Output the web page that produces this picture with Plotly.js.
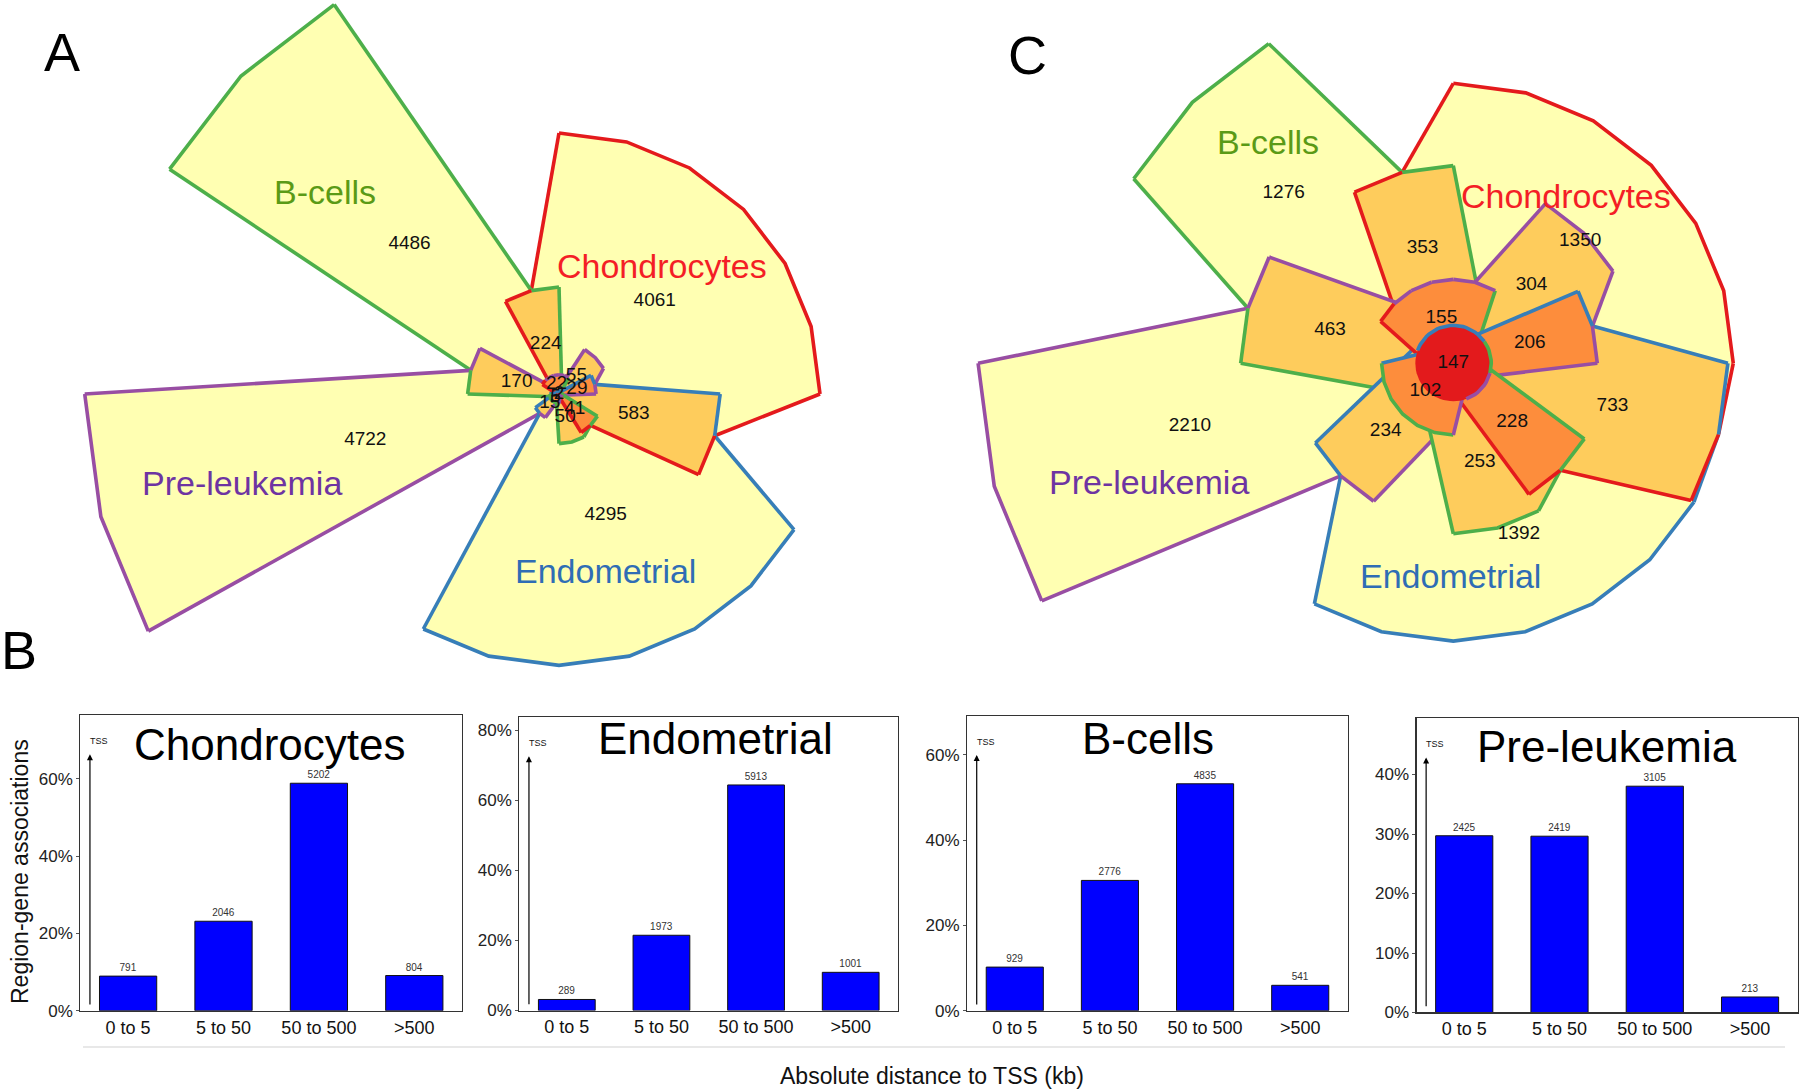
<!DOCTYPE html>
<html><head><meta charset="utf-8">
<script src="https://cdn.plot.ly/plotly-3.0.1.min.js"></script>
<style>html,body{margin:0;padding:0;background:#fff;}#chart{width:1800px;height:1089px;}</style>
</head><body><div id="chart"></div>
<script>
// ---------------- DATA ----------------
// Region keys: C=Chondrocytes, B=B-cells, P=Pre-leukemia, E=Endometrial
const regionKeys = ['C','B','P','E','CB','PB','PE','CE','CP','EB','CBP','CPE','CEB','BPE','CBPE'];
const countsA = [4061,4486,4722,4295,224,170,15,583,55,50,22,29,41,5,2];
const countsC = [1350,1276,2210,1392,353,463,234,733,304,253,155,206,228,102,147];
const setNames = {C:'Chondrocytes', B:'B-cells', P:'Pre-leukemia', E:'Endometrial'};

const distanceBins = ['0 to 5','5 to 50','50 to 500','>500'];
const chondroCounts = [791,2046,5202,804];
const endoCounts = [289,1973,5913,1001];
const bcellCounts = [929,2776,4835,541];
const preleukCounts = [2425,2419,3105,213];

// ---------------- LAYOUT / STYLE TABLES ----------------
const W = 1800, H = 1089;
const FONT = 'Liberation Sans, Arial, Helvetica, sans-serif';
const SETCOL = {C:'#E41A1C', B:'#4DAF4A', P:'#984EA3', E:'#377EB8'};
const NAMECOL = {C:'#F41E26', B:'#5A9A16', P:'#6E34A2', E:'#2F6DB5'};
const FILL = {1:'#FFFFB2', 2:'#FECC5C', 3:'#FD8D3C', 4:'#E31A1C'};
// angular sectors of the Chow-Ruskey style layout; s = neighbour whose arc midpoint a side runs to (null = tangent side)
// c = [side at a[0], arc colour parts, side at a[1]] (set letters); la = label angle
const GEOM = {
  C:  {lv:1, a:[0,90],    s:['CE','CB'],  c:['C',['C'],'C'], la:44},
  B:  {lv:1, a:[120,150], s:['CB','PB'],  c:['B',['B'],'B'], la:135},
  P:  {lv:1, a:[180,210], s:['PB','PE'],  c:['P',['P'],'P'], la:193.5},
  E:  {lv:1, a:[240,330], s:['PE','CE'],  c:['E',['E'],'E'], la:291},
  CB: {lv:2, a:[90,120],  s:[null,null],  c:['B',['B','C'],'C']},
  PB: {lv:2, a:[150,180], s:[null,null],  c:['P',['P','B'],'B']},
  PE: {lv:2, a:[210,240], s:[null,null],  c:['E',['E','P'],'P']},
  CE: {lv:2, a:[330,360], s:['CEB','CPE'],c:['C',['C','E'],'E']},
  CP: {lv:2, a:[30,60],   s:['CPE',null], c:['P',['P'],'P']},
  EB: {lv:2, a:[270,300], s:[null,'CEB'], c:['B',['B'],'B']},
  CBP:{lv:3, a:[60,150],  s:[null,null],  c:['B',['P','P','P','P','P','C'],'C']},
  CPE:{lv:3, a:[0,30],    s:[null,null],  c:['P',['P','E'],'E']},
  CEB:{lv:3, a:[300,330], s:[null,null],  c:['C',['C','B'],'B']},
  BPE:{lv:3, a:[180,270], s:[null,null],  c:['E',['B'],'P']}
};
const CENTER_OUTLINE = [[35,160,'E'],[-15,35,'B'],[-70,-15,'P']];

// S = drawing area (px^2) per region count in each diagram
const DIAGRAMS = [
  {counts: countsA, S: 13.6, xa:'x',  ya:'y',
   labelFrac:{C:0.51, B:0.47, P:0.42, E:0.48, 2:0.48, 3:0.5},
   names:{B:[-234,202], C:[103,128], P:[-317,-89], E:[46,-177]}},
  {counts: countsC, S: 30.8, xa:'x2', ya:'y2',
   labelFrac:{C:0.63, B:0.65, P:0.57, E:0.66, 2:0.6, 3:0.55},
   names:{B:[-185,221], C:[113,167], P:[-304,-119], E:[-3,-213]}}
];

const D = Math.PI/180;
function pt(r, deg){ return [r*Math.cos(deg*D), r*Math.sin(deg*D)]; }
const KEYS = regionKeys.filter(k => k !== 'CBPE');
const ORDER = [1,2,3].flatMap(lv => KEYS.filter(k => GEOM[k].lv === lv));

function sidePoint(R, k, idx){
  const L = GEOM[k], tgt = L.s[idx], a = L.a[idx];
  if (tgt) { const m = (GEOM[tgt].a[0]+GEOM[tgt].a[1])/2; return pt(R[tgt], m); }
  const d = L.lv === 2 ? R.CBPE : R.CBPE*0.45;
  const off = Math.acos(Math.min(1, d/R[k]))/D;
  return pt(d, idx === 0 ? a - off : a + off);
}
function makeGeom(R){
  const G = {};
  KEYS.forEach(k => {
    const L = GEOM[k], a1 = L.a[0], span = L.a[1]-a1;
    const nseg = Math.max(1, Math.round(span/15));
    const arc = [];
    for (let i = 0; i <= nseg; i++) arc.push(pt(R[k], a1 + span*i/nseg));
    const S1 = sidePoint(R,k,0), S2 = sidePoint(R,k,1);
    const poly = [[0,0], S1, ...arc, S2];
    const xs = poly.map(p=>p[0]), ys = poly.map(p=>p[1]);
    G[k] = {arc, S1, S2, nseg, poly, xs, ys,
      minx:Math.min(...xs), maxx:Math.max(...xs), miny:Math.min(...ys), maxy:Math.max(...ys)};
  });
  return G;
}
function inside(P, x, y){
  if (x < P.minx || x > P.maxx || y < P.miny || y > P.maxy) return false;
  const xs = P.xs, ys = P.ys, m = xs.length; let c = false;
  for (let i = 0, j = m-1; i < m; j = i++) {
    if (((ys[i] > y) !== (ys[j] > y)) && (x < (xs[j]-xs[i])*(y-ys[i])/(ys[j]-ys[i]) + xs[i])) c = !c;
  }
  return c;
}
// sampling grid: coarse 3px cells, 1px cells near the centre
const GX = [], GY = [], GW = [];
(function(){
  const B = 570, F = 48;
  for (let x = -B+1.5; x < B; x += 3) for (let y = -B+1.5; y < B; y += 3) {
    if (Math.abs(x) < F && Math.abs(y) < F) continue;
    GX.push(x); GY.push(y); GW.push(9);
  }
  for (let x = -F+0.5; x < F; x += 1) for (let y = -F+0.5; y < F; y += 1) { GX.push(x); GY.push(y); GW.push(1); }
})();

// radii so that every visible region area is proportional to its count
function solveRadii(n, S){
  const R = {};
  R.CBPE = Math.sqrt(S*n.CBPE/Math.PI);
  KEYS.forEach(k => {
    const L = GEOM[k], a1 = L.a[0], a2 = L.a[1], span = a2-a1;
    let cov = n.CBPE*span/360;
    KEYS.forEach(j => { const Lj = GEOM[j];
      if (Lj.lv > L.lv) cov += n[j]*Math.max(0, Math.min(a2,Lj.a[1]) - Math.max(a1,Lj.a[0]))/(Lj.a[1]-Lj.a[0]); });
    R[k] = Math.sqrt(2*0.88*S*(n[k]+cov)/(span*D));
  });
  const r4sq = R.CBPE*R.CBPE;
  for (let it = 0; it < 26; it++) {
    const G = makeGeom(R), area = {};
    KEYS.forEach(k => area[k] = 0);
    const top = ORDER.slice().reverse().map(k => [k, G[k]]);
    for (let c = 0; c < GX.length; c++) {
      const x = GX[c], y = GY[c];
      if (x*x + y*y < r4sq) continue;
      for (let t = 0; t < top.length; t++) { if (inside(top[t][1], x, y)) { area[top[t][0]] += GW[c]; break; } }
    }
    KEYS.forEach(k => { R[k] *= area[k] > 0 ? Math.pow(S*n[k]/area[k], 0.42) : 1.3; });
  }
  return R;
}

const traces = [];
const annotations = [];
function note(o){ annotations.push(Object.assign({showarrow:false, xanchor:'center', yanchor:'middle'}, o)); }

DIAGRAMS.forEach(dg => {
  const n = {}; regionKeys.forEach((k,i)=> n[k] = dg.counts[i]);
  const R = solveRadii(n, dg.S);
  const G = makeGeom(R);
  ORDER.forEach(k => {
    const L = GEOM[k], g = G[k], arc = g.arc, nseg = g.nseg;
    const poly = g.poly.concat([[0,0]]);
    traces.push({type:'scatter', mode:'lines', x:poly.map(p=>p[0]), y:poly.map(p=>p[1]),
      xaxis:dg.xa, yaxis:dg.ya, fill:'toself', fillcolor:FILL[L.lv], line:{width:0},
      hoverinfo:'skip', showlegend:false});
    const segs = {};
    function add(col, pts){ (segs[col] = segs[col] || []).push(pts); }
    add(L.c[0], [g.S1, arc[0]]);
    const parts = L.c[1], per = nseg/parts.length;
    parts.forEach((col, i) => add(col, arc.slice(Math.round(i*per), Math.round((i+1)*per)+1)));
    add(L.c[2], [arc[nseg], g.S2]);
    Object.keys(segs).forEach(col => {
      const xs = [], ys = [];
      segs[col].forEach(s => { s.forEach(p => { xs.push(p[0]); ys.push(p[1]); }); xs.push(null); ys.push(null); });
      traces.push({type:'scatter', mode:'lines', x:xs, y:ys, xaxis:dg.xa, yaxis:dg.ya,
        line:{color:SETCOL[col], width:3.6}, hoverinfo:'skip', showlegend:false, connectgaps:false});
    });
  });
  const circ = [];
  for (let t = 0; t <= 360; t += 5) circ.push(pt(R.CBPE, t));
  traces.push({type:'scatter', mode:'lines', x:circ.map(p=>p[0]), y:circ.map(p=>p[1]),
    xaxis:dg.xa, yaxis:dg.ya, fill:'toself', fillcolor:FILL[4], line:{width:0}, hoverinfo:'skip', showlegend:false});
  CENTER_OUTLINE.forEach(([t0,t1,col]) => {
    const ptsC = []; for (let t = t0; t <= t1 + 0.01; t += 5) ptsC.push(pt(R.CBPE, t));
    traces.push({type:'scatter', mode:'lines', x:ptsC.map(p=>p[0]), y:ptsC.map(p=>p[1]),
      xaxis:dg.xa, yaxis:dg.ya, line:{color:SETCOL[col], width:3.6}, hoverinfo:'skip', showlegend:false});
  });
  const lx = [], ly = [], lt = [];
  KEYS.forEach(k => {
    const L = GEOM[k];
    const ang = L.la !== undefined ? L.la : (L.a[0]+L.a[1])/2;
    const f = L.lv === 1 ? dg.labelFrac[k] : dg.labelFrac[L.lv];
    const p = pt(f*R[k], ang);
    lx.push(p[0]); ly.push(p[1]); lt.push(String(n[k]));
  });
  lx.push(0); ly.push(0); lt.push(String(n.CBPE));
  traces.push({type:'scatter', mode:'text', x:lx, y:ly, text:lt, xaxis:dg.xa, yaxis:dg.ya,
    textfont:{size:19, color:'#111', family:FONT}, hoverinfo:'skip', showlegend:false, cliponaxis:false});
  Object.keys(dg.names).forEach(s => {
    note({xref:dg.xa, yref:dg.ya, x:dg.names[s][0], y:dg.names[s][1], text:setNames[s],
      font:{size:34, color:NAMECOL[s], family:FONT}});
  });
});

// ---------------- BAR CHARTS ----------------
const BARS = [
  {title:'Chondrocytes', counts:chondroCounts, id:3, dx:[0.04467,0.25667], dy:[0.0719,0.34343], dtick:20, tx:269, ty:744},
  {title:'Endometrial',  counts:endoCounts,    id:4, dx:[0.28861,0.49889], dy:[0.07208,0.34132], dtick:20, tx:715, ty:738},
  {title:'B-cells',      counts:bcellCounts,   id:5, dx:[0.53733,0.74878], dy:[0.0719,0.34279], dtick:20, tx:1148, ty:738},
  {title:'Pre-leukemia', counts:preleukCounts, id:6, dx:[0.787,0.99872],   dy:[0.07025,0.3404], dtick:10, tx:1607, ty:746}
];
const layout = {
  width:W, height:H, margin:{l:0,r:0,t:0,b:0}, paper_bgcolor:'#ffffff', plot_bgcolor:'rgba(0,0,0,0)',
  showlegend:false, font:{family:FONT, color:'#111'},
  xaxis:{domain:[0,0.5], anchor:'y', range:[-559,341], visible:false, fixedrange:true},
  yaxis:{domain:[1-680/H,1], anchor:'x', range:[-286,394], visible:false, fixedrange:true},
  xaxis2:{domain:[0.5,1], anchor:'y2', range:[-553.3,346.7], visible:false, fixedrange:true},
  yaxis2:{domain:[1-680/H,1], anchor:'x2', range:[-316.7,363.3], visible:false, fixedrange:true},
  shapes:[{type:'line', xref:'paper', yref:'paper', x0:83/W, x1:1785/W, y0:1-1047/H, y1:1-1047/H,
           line:{color:'#e8e8e8', width:2}}],
  annotations: annotations
};
BARS.forEach(b => {
  const total = b.counts.reduce((s,v)=>s+v,0);
  const pct = b.counts.map(v => 100*v/total);
  const ymax = 1.3*Math.max(...pct);
  const xa = 'x'+b.id, ya = 'y'+b.id;
  traces.push({type:'bar', x:distanceBins, y:pct, text:b.counts.map(String), textposition:'outside',
    textfont:{size:10, color:'#333', family:FONT}, cliponaxis:false, width:0.6,
    marker:{color:'#0000FF', line:{color:'#111', width:1}}, xaxis:xa, yaxis:ya, hoverinfo:'skip', showlegend:false});
  layout['xaxis'+b.id] = {domain:b.dx, anchor:ya, type:'category', range:[-0.5,3.5], showline:true, mirror:true,
    linecolor:'#333', linewidth:1.2, ticks:'', showgrid:false, tickfont:{size:18, color:'#111'}, fixedrange:true};
  layout['yaxis'+b.id] = {domain:b.dy, anchor:xa, range:[0,ymax], dtick:b.dtick, ticksuffix:'%', showline:true, mirror:true,
    linecolor:'#333', linewidth:1.2, ticks:'outside', ticklen:3, tickcolor:'#555', showgrid:false, zeroline:false,
    tickfont:{size:17, color:'#222'}, fixedrange:true};
  note({xref:'paper', yref:'paper', x:b.tx/W, y:1-b.ty/H, text:b.title, font:{size:44, color:'#000', family:FONT}});
  annotations.push({xref:xa, yref:ya, x:-0.4, y:0.867*ymax, ax:-0.4, ay:0.016*ymax, axref:xa, ayref:ya,
    text:'', showarrow:true, arrowhead:2, arrowsize:1, arrowwidth:1.2, arrowcolor:'#000', standoff:0});
  note({xref:xa, yref:ya, x:-0.4, y:0.867*ymax, xshift:9, yshift:13, text:'TSS', font:{size:9, color:'#111', family:FONT}});
});
note({xref:'paper', yref:'paper', x:932/W, y:1-1076/H, text:'Absolute distance to TSS (kb)', font:{size:23, color:'#111', family:FONT}});
note({xref:'paper', yref:'paper', x:20/W, y:1-872/H, text:'Region-gene associations', textangle:-90, font:{size:23, color:'#111', family:FONT}});
[['A',62,52],['C',1027,55],['B',19,650]].forEach(([t,x,y]) => note({xref:'paper', yref:'paper', x:x/W, y:1-y/H,
  text:t, font:{size:54, color:'#000', family:FONT}}));

Plotly.newPlot('chart', traces, layout, {displayModeBar:false, staticPlot:true});
</script></body></html>
